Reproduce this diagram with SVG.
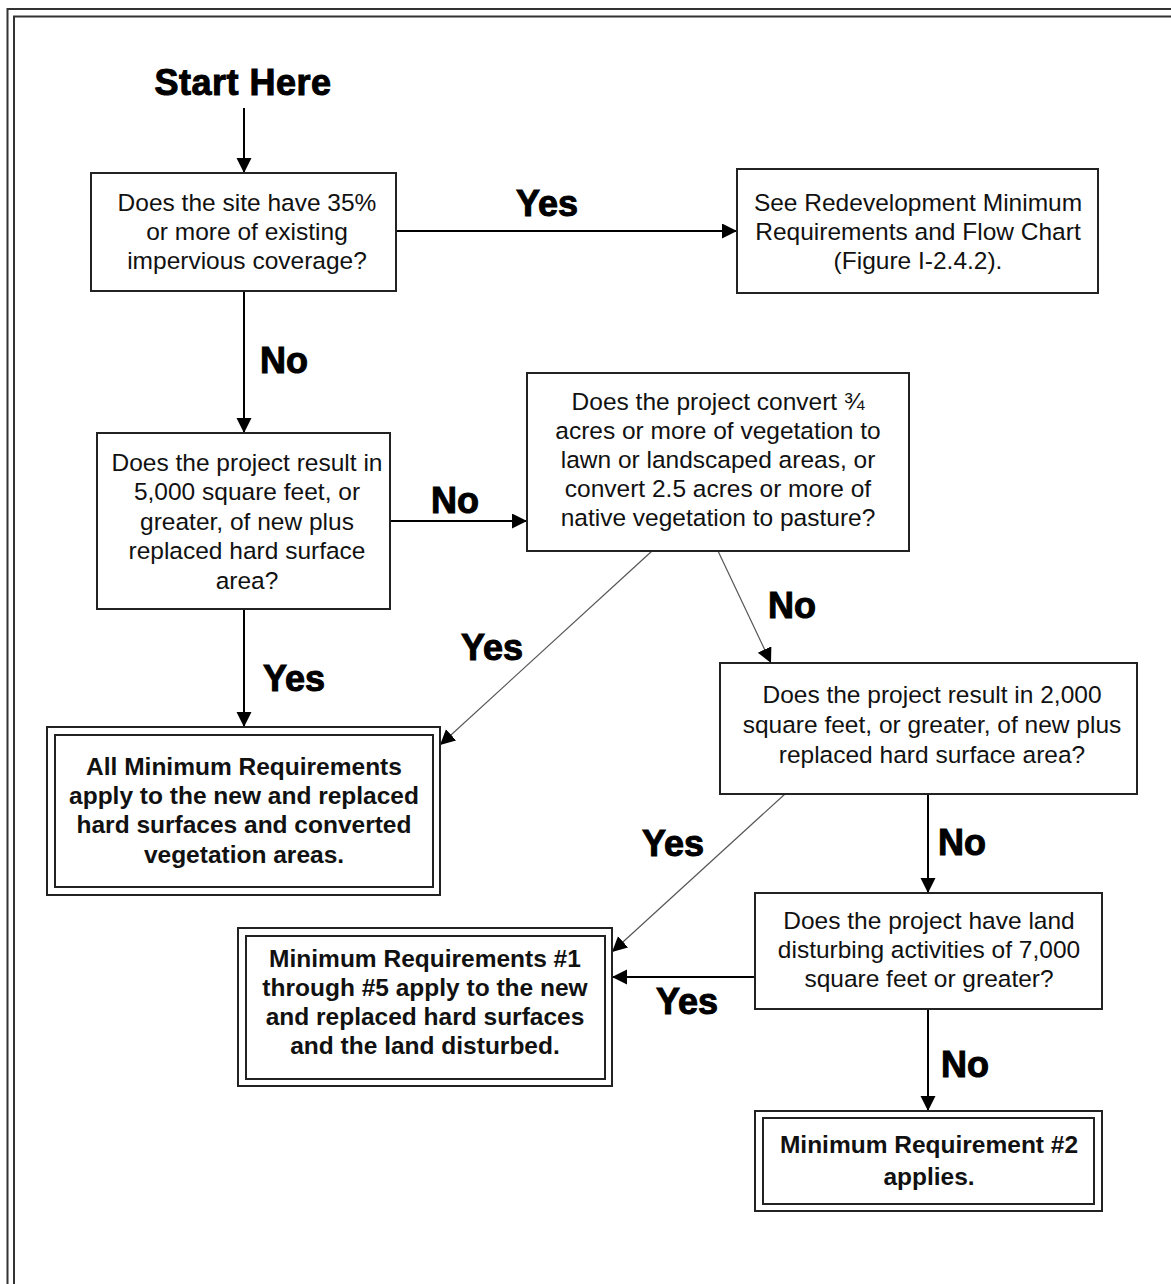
<svg xmlns="http://www.w3.org/2000/svg" width="1171" height="1284" viewBox="0 0 1171 1284">
<defs>
<marker id="ah" markerUnits="userSpaceOnUse" markerWidth="18" markerHeight="18" refX="15" refY="7.5" orient="auto">
<path d="M0,0 L15,7.5 L0,15 z" fill="#000"/>
</marker>
<style>
.box{fill:#fff;stroke:#222;stroke-width:2}
.t{font-family:"Liberation Sans",Arial,sans-serif;font-size:24.5px;fill:#111;text-anchor:middle}
.b{font-weight:bold}
.lbl{font-family:"Liberation Sans",Arial,sans-serif;font-weight:bold;font-size:36px;fill:#000;stroke:#000;stroke-width:1;text-anchor:middle}
.c{stroke:#000;stroke-width:2;fill:none;marker-end:url(#ah)}
.d{stroke:#555;stroke-width:1.2;fill:none;marker-end:url(#ah)}
.frame{fill:none;stroke:#333;stroke-width:2}
</style>
</defs>
<rect width="1171" height="1284" fill="#fff"/>
<rect class="frame" x="7.5" y="9" width="1200" height="1300"/>
<rect class="frame" x="14" y="16.5" width="1200" height="1300"/>

<g id="start"><text class="lbl" x="243" y="95" font-size="45" letter-spacing="0.5">Start Here</text></g>

<g id="connectors">
<line class="c" x1="244" y1="108" x2="244" y2="173"/>
<line class="c" x1="396" y1="231" x2="737" y2="231"/>
<line class="c" x1="244" y1="291" x2="244" y2="433"/>
<line class="c" x1="390" y1="521" x2="527" y2="521"/>
<line class="c" x1="244" y1="609" x2="244" y2="727"/>
<line class="d" x1="652" y1="551" x2="440" y2="745"/>
<line class="d" x1="718" y1="551" x2="771" y2="663"/>
<line class="d" x1="785" y1="794" x2="612" y2="952"/>
<line class="c" x1="928" y1="794" x2="928" y2="893"/>
<line class="c" x1="755" y1="977" x2="612" y2="977"/>
<line class="c" x1="928" y1="1009" x2="928" y2="1111"/>
</g>

<g id="labels">
<text class="lbl" x="547" y="216">Yes</text>
<text class="lbl" x="284" y="373">No</text>
<text class="lbl" x="455" y="513">No</text>
<text class="lbl" x="492" y="660">Yes</text>
<text class="lbl" x="294" y="691">Yes</text>
<text class="lbl" x="792" y="618">No</text>
<text class="lbl" x="673" y="856">Yes</text>
<text class="lbl" x="962" y="855">No</text>
<text class="lbl" x="687" y="1014">Yes</text>
<text class="lbl" x="965" y="1077">No</text>
</g>

<g id="q1">
<rect class="box" x="91" y="173" width="305" height="118"/>
<text class="t" x="247" y="211">Does the site have 35%</text>
<text class="t" x="247" y="240">or more of existing</text>
<text class="t" x="247" y="269">impervious coverage?</text>
</g>

<g id="redev">
<rect class="box" x="737" y="169" width="361" height="124"/>
<text class="t" x="918" y="211">See Redevelopment Minimum</text>
<text class="t" x="918" y="240">Requirements and Flow Chart</text>
<text class="t" x="918" y="269">(Figure I-2.4.2).</text>
</g>

<g id="q2">
<rect class="box" x="97" y="433" width="293" height="176"/>
<text class="t" x="247" y="471">Does the project result in</text>
<text class="t" x="247" y="500">5,000 square feet, or</text>
<text class="t" x="247" y="530">greater, of new plus</text>
<text class="t" x="247" y="559">replaced hard surface</text>
<text class="t" x="247" y="589">area?</text>
</g>

<g id="q3">
<rect class="box" x="527" y="373" width="382" height="178"/>
<text class="t" x="718" y="410">Does the project convert ¾</text>
<text class="t" x="718" y="439">acres or more of vegetation to</text>
<text class="t" x="718" y="468">lawn or landscaped areas, or</text>
<text class="t" x="718" y="497">convert 2.5 acres or more of</text>
<text class="t" x="718" y="526">native vegetation to pasture?</text>
</g>

<g id="allmr">
<rect class="box" x="47" y="727" width="393" height="168"/>
<rect class="box" x="55" y="735" width="378" height="152"/>
<text class="t b" x="244" y="775">All Minimum Requirements</text>
<text class="t b" x="244" y="804">apply to the new and replaced</text>
<text class="t b" x="244" y="833">hard surfaces and converted</text>
<text class="t b" x="244" y="863">vegetation areas.</text>
</g>

<g id="q4">
<rect class="box" x="720" y="663" width="417" height="131"/>
<text class="t" x="932" y="703">Does the project result in 2,000</text>
<text class="t" x="932" y="733">square feet, or greater, of new plus</text>
<text class="t" x="932" y="763">replaced hard surface area?</text>
</g>

<g id="q5">
<rect class="box" x="755" y="893" width="347" height="116"/>
<text class="t" x="929" y="929">Does the project have land</text>
<text class="t" x="929" y="958">disturbing activities of 7,000</text>
<text class="t" x="929" y="987">square feet or greater?</text>
</g>

<g id="mr15">
<rect class="box" x="238" y="928" width="374" height="158"/>
<rect class="box" x="246" y="936" width="359" height="143"/>
<text class="t b" x="425" y="967">Minimum Requirements #1</text>
<text class="t b" x="425" y="996">through #5 apply to the new</text>
<text class="t b" x="425" y="1025">and replaced hard surfaces</text>
<text class="t b" x="425" y="1054">and the land disturbed.</text>
</g>

<g id="mr2">
<rect class="box" x="755" y="1111" width="347" height="100"/>
<rect class="box" x="763" y="1118" width="331" height="86"/>
<text class="t b" x="929" y="1153">Minimum Requirement #2</text>
<text class="t b" x="929" y="1185">applies.</text>
</g>
</svg>
